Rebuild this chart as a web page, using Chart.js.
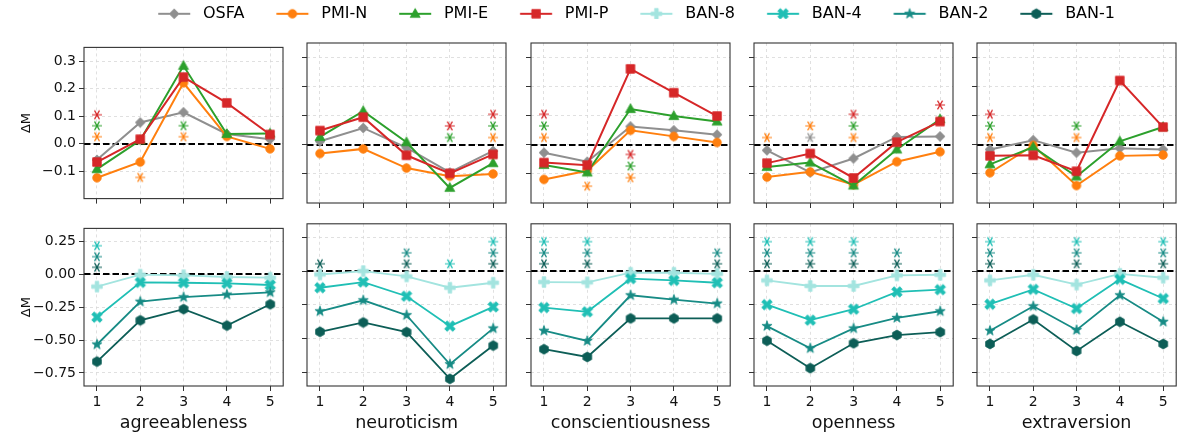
<!DOCTYPE html>
<html>
<head>
<meta charset="utf-8">
<script src="https://cdn.jsdelivr.net/npm/chart.js@4.4.1/dist/chart.umd.min.js"></script>
<style>
  body { margin: 0; background: #fff; width: 1182px; height: 437px; position: relative; overflow: hidden; }
  canvas { position: absolute; }
</style>
</head>
<body>
<script>
// categories / x values
const traits = ['agreeableness', 'neuroticism', 'conscientiousness', 'openness', 'extraversion'];
const xs = [1, 2, 3, 4, 5];

// top row: one list per trait
const osfa = [
  [-0.059, 0.077, 0.114, 0.035, 0.016],
  [0.012, 0.058, -0.010, -0.095, -0.021],
  [-0.027, -0.058, 0.063, 0.050, 0.035],
  [-0.019, -0.095, -0.047, 0.027, 0.029],
  [-0.016, 0.016, -0.027, -0.012, -0.016]
];
const pmiN = [
  [-0.124, -0.067, 0.221, 0.026, -0.019],
  [-0.030, -0.014, -0.080, -0.108, -0.100],
  [-0.119, -0.089, 0.050, 0.029, 0.008],
  [-0.111, -0.093, -0.137, -0.058, -0.024],
  [-0.096, -0.002, -0.140, -0.038, -0.035]
];
const pmiE = [
  [-0.093, 0.012, 0.283, 0.035, 0.037],
  [0.027, 0.116, 0.009, -0.148, -0.063],
  [-0.069, -0.095, 0.123, 0.099, 0.080],
  [-0.076, -0.061, -0.140, -0.016, 0.088],
  [-0.067, -0.008, -0.109, 0.012, 0.061]
];
const pmiP = [
  [-0.067, 0.016, 0.242, 0.148, 0.033],
  [0.049, 0.095, -0.036, -0.098, -0.033],
  [-0.061, -0.070, 0.261, 0.179, 0.099],
  [-0.063, -0.030, -0.114, 0.009, 0.080],
  [-0.038, -0.036, -0.091, 0.221, 0.061]
];

// bottom row
const ban8 = [
  [-0.093, -0.002, -0.007, -0.020, -0.025],
  [-0.025, 0.000, -0.039, -0.123, -0.086],
  [-0.081, -0.083, -0.012, -0.012, -0.020],
  [-0.069, -0.110, -0.110, -0.032, -0.027],
  [-0.069, -0.027, -0.100, -0.020, -0.049]
];
const ban4 = [
  [-0.326, -0.061, -0.064, -0.069, -0.081],
  [-0.123, -0.081, -0.186, -0.407, -0.265],
  [-0.270, -0.301, -0.056, -0.069, -0.086],
  [-0.248, -0.363, -0.282, -0.154, -0.137],
  [-0.245, -0.135, -0.277, -0.061, -0.203]
];
const ban2 = [
  [-0.534, -0.208, -0.174, -0.154, -0.137],
  [-0.297, -0.216, -0.326, -0.689, -0.424],
  [-0.441, -0.517, -0.179, -0.211, -0.240],
  [-0.407, -0.571, -0.424, -0.346, -0.297],
  [-0.441, -0.260, -0.436, -0.179, -0.375]
];
const ban1 = [
  [-0.664, -0.350, -0.265, -0.390, -0.228],
  [-0.449, -0.380, -0.451, -0.797, -0.551],
  [-0.578, -0.635, -0.350, -0.350, -0.350],
  [-0.515, -0.718, -0.534, -0.473, -0.451],
  [-0.539, -0.358, -0.591, -0.375, -0.539]
];

// significance asterisks: [trait, x, y]
const starsOSFA = [[3, 2, 0.025]];
const starsN = [[0, 1, 0.025], [0, 2, -0.123], [0, 3, 0.025], [1, 5, 0.025], [2, 1, 0.025], [2, 2, -0.142],
  [2, 3, -0.113], [3, 1, 0.025], [3, 2, 0.065], [3, 3, 0.025], [4, 1, 0.025], [4, 3, 0.025]];
const starsE = [[0, 1, 0.065], [0, 3, 0.065], [1, 4, 0.025], [1, 5, 0.065], [2, 1, 0.065], [2, 3, -0.073],
  [3, 3, 0.065], [4, 1, 0.065], [4, 3, 0.065]];
const starsP = [[0, 1, 0.105], [1, 4, 0.065], [1, 5, 0.105], [2, 1, 0.105], [2, 3, -0.033], [3, 3, 0.105],
  [3, 5, 0.137], [4, 1, 0.105]];
const stars4 = [[0, 1, 0.218], [1, 4, 0.054], [1, 5, 0.218], [2, 1, 0.218], [2, 2, 0.218], [3, 1, 0.218],
  [3, 2, 0.218], [3, 3, 0.218], [4, 1, 0.218], [4, 3, 0.218], [4, 5, 0.218]];
const stars2 = [[0, 1, 0.135], [1, 3, 0.135], [1, 5, 0.135], [2, 1, 0.135], [2, 2, 0.135], [2, 5, 0.135],
  [3, 1, 0.135], [3, 2, 0.135], [3, 3, 0.135], [3, 4, 0.135], [4, 1, 0.135], [4, 3, 0.135], [4, 5, 0.135]];
const stars1 = [[0, 1, 0.054], [1, 1, 0.054], [1, 3, 0.054], [1, 5, 0.054], [2, 1, 0.054], [2, 2, 0.054],
  [2, 5, 0.054], [3, 1, 0.054], [3, 2, 0.054], [3, 3, 0.054], [3, 4, 0.054], [4, 1, 0.054], [4, 3, 0.054], [4, 5, 0.054]];

// tick labels
const topTicks = [-0.1, 0, 0.1, 0.2, 0.3];
const topTickLabels = ['\u22120.1', '0.0', '0.1', '0.2', '0.3'];
const botTicks = [-0.75, -0.5, -0.25, 0, 0.25];
const botTickLabels = ['\u22120.75', '\u22120.50', '\u22120.25', '0.00', '0.25'];

const FONT = "'DejaVu Sans', sans-serif";
Chart.defaults.font.family = FONT;

// marker drawing
function drawShape(g, shape, cx, cy, color) {
    g.fillStyle = color;
    g.strokeStyle = color;
    g.beginPath();
    if (shape === 'circle') {
        g.arc(cx, cy, 4.3, 0, Math.PI * 2);
    } else if (shape === 'diamond') {
        g.moveTo(cx, cy - 4.9); g.lineTo(cx + 4.9, cy); g.lineTo(cx, cy + 4.9); g.lineTo(cx - 4.9, cy);
    } else if (shape === 'triangle') {
        g.moveTo(cx, cy - 5.3); g.lineTo(cx + 5, cy + 3.6); g.lineTo(cx - 5, cy + 3.6);
    } else if (shape === 'square') {
        g.rect(cx - 4.3, cy - 4.3, 8.6, 8.6);
    } else if (shape === 'hexagon') {
        for (let k = 0; k < 6; k++) {
            const a = -Math.PI / 2 + k * Math.PI / 3;
            g.lineTo(cx + 5 * Math.cos(a), cy + 5 * Math.sin(a));
        }
    } else if (shape === 'star') {
        for (let k = 0; k < 10; k++) {
            const a = -Math.PI / 2 + k * Math.PI / 5;
            const r = k % 2 ? 2.1 : 5.3;
            g.lineTo(cx + r * Math.cos(a), cy + r * Math.sin(a));
        }
    } else if (shape === 'plus' || shape === 'x') {
        g.save();
        g.translate(cx, cy);
        if (shape === 'x') g.rotate(Math.PI / 4);
        const L = shape === 'x' ? 5.7 : 5.3, T = 1.8;
        g.moveTo(-T, -L); g.lineTo(T, -L); g.lineTo(T, -T); g.lineTo(L, -T); g.lineTo(L, T); g.lineTo(T, T);
        g.lineTo(T, L); g.lineTo(-T, L); g.lineTo(-T, T); g.lineTo(-L, T); g.lineTo(-L, -T); g.lineTo(-T, -T);
        g.closePath();
        g.restore();
    }
    g.closePath();
    g.fill();
    g.lineWidth = 0.8;
    g.stroke();
}

function marker(shape, color) {
    const c = document.createElement('canvas');
    c.width = 14; c.height = 14;
    drawShape(c.getContext('2d'), shape, 7, 7, color);
    return c;
}

// legend handle: empty lead-in, then a 32px line with the marker in its middle
function legendIcon(shape, color) {
    const c = document.createElement('canvas');
    c.width = 62; c.height = 16;
    const g = c.getContext('2d');
    g.strokeStyle = color; g.lineWidth = 2;
    g.beginPath(); g.moveTo(25.2, 8); g.lineTo(57.2, 8); g.stroke();
    drawShape(g, shape, 41.2, 8, color);
    return c;
}

function asterisk(color) {
    const c = document.createElement('canvas');
    c.width = 14; c.height = 14;
    const g = c.getContext('2d');
    g.strokeStyle = color; g.lineWidth = 1.2;
    g.beginPath();
    for (let k = 0; k < 3; k++) {
        const a = k * Math.PI / 3;
        g.moveTo(7 - 5 * Math.cos(a), 7 - 5 * Math.sin(a));
        g.lineTo(7 + 5 * Math.cos(a), 7 + 5 * Math.sin(a));
    }
    g.stroke();
    return c;
}

const topSeries = [
    { name: 'OSFA', vals: osfa, stars: starsOSFA, color: '#8f8f8f', shape: 'diamond' },
    { name: 'PMI-N', vals: pmiN, stars: starsN, color: '#ff7f0e', shape: 'circle' },
    { name: 'PMI-E', vals: pmiE, stars: starsE, color: '#2ca02c', shape: 'triangle' },
    { name: 'PMI-P', vals: pmiP, stars: starsP, color: '#d62728', shape: 'square' }
];
const botSeries = [
    { name: 'BAN-8', vals: ban8, stars: [], color: '#a3e4df', shape: 'plus' },
    { name: 'BAN-4', vals: ban4, stars: stars4, color: '#20bfb5', shape: 'x' },
    { name: 'BAN-2', vals: ban2, stars: stars2, color: '#178b85', shape: 'star' },
    { name: 'BAN-1', vals: ban1, stars: stars1, color: '#0d5e57', shape: 'hexagon' }
];

const framePlugin = {
    id: 'frame',
    beforeDatasetsDraw(chart) {
        const a = chart.chartArea, ctx = chart.ctx;
        const y0 = Math.round(chart.scales.y.getPixelForValue(0));
        ctx.save();
        ctx.strokeStyle = '#000';
        ctx.lineWidth = 1.8;
        ctx.setLineDash([6.5, 3]);
        ctx.beginPath(); ctx.moveTo(a.left, y0); ctx.lineTo(a.right, y0); ctx.stroke();
        ctx.restore();
    },
    afterDatasetsDraw(chart) {
        const a = chart.chartArea, ctx = chart.ctx;
        ctx.save();
        ctx.strokeStyle = '#333';
        ctx.lineWidth = 1.1;
        ctx.strokeRect(a.left, a.top, a.right - a.left, a.bottom - a.top);
        ctx.restore();
    }
};

const colLeft = [84, 307, 531, 754, 977];
const PW = 204;

function makePanel(row, t) {
    const isTop = row === 0;
    const series = isTop ? topSeries : botSeries;
    const ticks = isTop ? topTicks : botTicks;
    const tickLabels = isTop ? topTickLabels : botTickLabels;
    const yw = t === 0 ? 84 : 8;
    const xh = isTop ? 6 : 51;
    const ph = isTop ? 162 : 163;
    const pt = isTop ? 42 : 223;

    const cv = document.createElement('canvas');
    cv.width = yw + PW + 2;
    cv.height = 6 + ph + xh;
    cv.style.left = (colLeft[t] - yw) + 'px';
    cv.style.top = (pt - 6) + 'px';
    document.body.appendChild(cv);

    const datasets = [];
    series.forEach((s, i) => {
        datasets.push({
            label: s.name,
            data: xs.map((x, j) => ({ x: x, y: s.vals[t][j] })),
            borderColor: s.color,
            backgroundColor: s.color,
            borderWidth: isTop ? 2 : 1.8,
            pointStyle: marker(s.shape, s.color),
            pointRadius: 5,
            tension: 0,
            order: 10 - i
        });
    });
    series.forEach(s => {
        const pts = s.stars.filter(p => p[0] === t).map(p => ({ x: p[1], y: p[2] }));
        if (!pts.length) return;
        datasets.push({
            label: s.name + ' *',
            data: pts,
            showLine: false,
            borderColor: s.color,
            backgroundColor: s.color,
            pointStyle: asterisk(s.color),
            pointRadius: 5,
            order: 0
        });
    });

    new Chart(cv.getContext('2d'), {
        type: 'line',
        data: { datasets: datasets },
        options: {
            responsive: false,
            animation: false,
            events: [],
            layout: { padding: { top: 6, right: 2, left: 0, bottom: 0 } },
            plugins: { legend: { display: false }, tooltip: { enabled: false } },
            scales: {
                x: {
                    type: 'linear',
                    min: 0.7,
                    max: 5.3,
                    afterBuildTicks: s => { s.ticks = xs.map(v => ({ value: v })); },
                    afterFit: s => { s.height = xh; },
                    ticks: { display: !isTop, color: '#111', font: { size: 14 }, padding: 3, maxRotation: 0,
                        callback: v => String(v) },
                    grid: { color: '#d9d9d9', lineWidth: 0.8, tickLength: 5, tickColor: '#333', tickWidth: 1 },
                    border: { display: false, dash: [3, 3] },
                    title: { display: !isTop, text: traits[t], color: '#111', font: { size: 17.5 },
                        padding: { top: 0, bottom: 3 } }
                },
                y: {
                    type: 'linear',
                    min: isTop ? -0.2 : -0.85,
                    max: 0.35,
                    afterBuildTicks: s => { s.ticks = ticks.map(v => ({ value: v })); },
                    afterFit: s => { s.width = yw; },
                    ticks: { display: t === 0, color: '#111', font: { size: 14 }, padding: 3,
                        callback: v => tickLabels[ticks.indexOf(v)] },
                    grid: { color: '#d9d9d9', lineWidth: 0.8, tickLength: 5, tickColor: '#333', tickWidth: 1 },
                    border: { display: false, dash: [3, 3] },
                    title: { display: t === 0, text: '\u0394M', color: '#111', font: { size: 13 },
                        padding: { top: 19, bottom: 0 } }
                }
            }
        },
        plugins: [framePlugin]
    });
}

// legend across the top
const allSeries = topSeries.concat(botSeries);
const lg = document.createElement('canvas');
lg.width = 1100; lg.height = 40;
lg.style.left = '74px'; lg.style.top = '-1px';
document.body.appendChild(lg);
new Chart(lg.getContext('2d'), {
    type: 'line',
    data: { datasets: allSeries.map(s => ({ label: s.name, data: [], borderColor: s.color, backgroundColor: s.color })) },
    options: {
        responsive: false,
        animation: false,
        events: [],
        scales: { x: { display: false }, y: { display: false } },
        plugins: {
            tooltip: { enabled: false },
            legend: {
                display: true,
                position: 'top',
                labels: {
                    usePointStyle: true,
                    pointStyleWidth: 62,
                    padding: 6.8,
                    color: '#111',
                    font: { size: 16 },
                    generateLabels: () => allSeries.map((s, i) => ({
                        text: s.name,
                        pointStyle: legendIcon(s.shape, s.color),
                        fillStyle: s.color,
                        strokeStyle: s.color,
                        lineWidth: 0,
                        hidden: false,
                        datasetIndex: i
                    }))
                }
            }
        }
    }
});

for (let r = 0; r < 2; r++) {
    for (let t = 0; t < 5; t++) makePanel(r, t);
}
</script>
</body>
</html>
